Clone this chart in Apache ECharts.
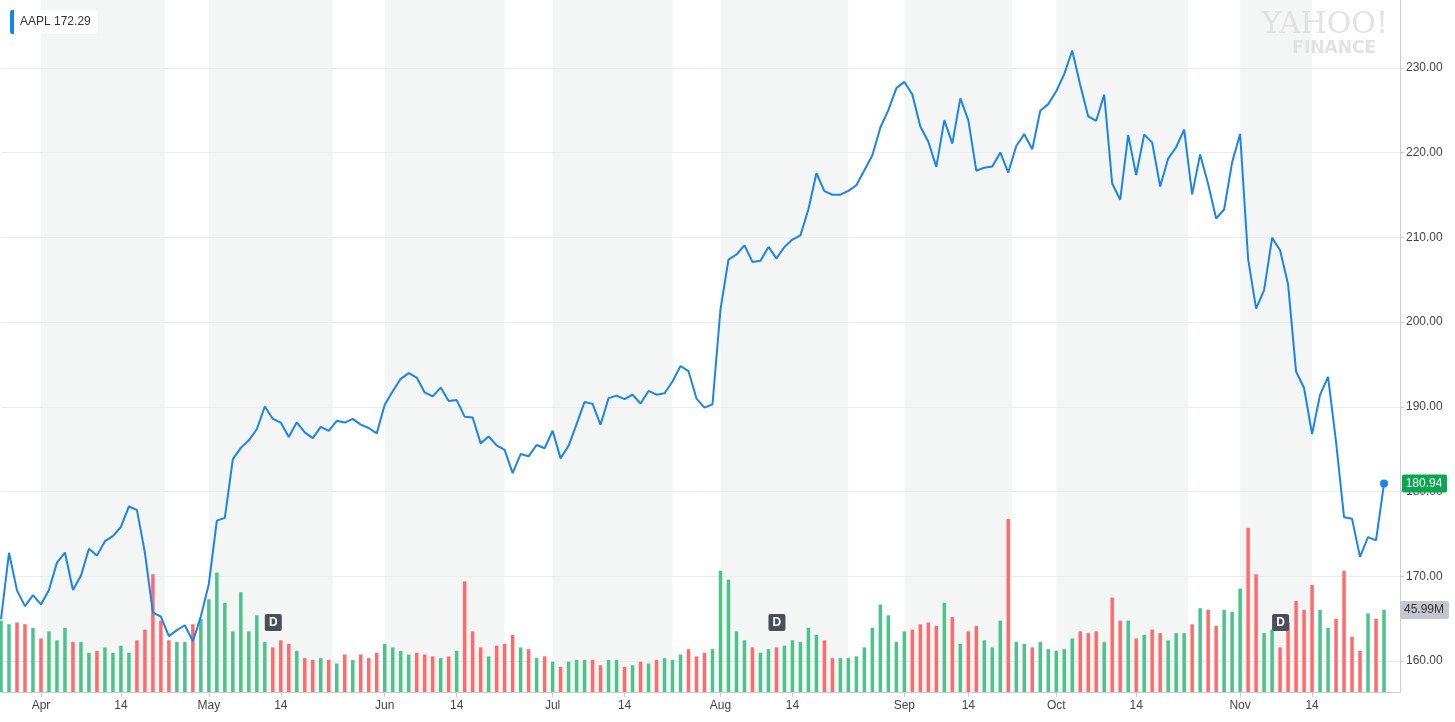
<!DOCTYPE html>
<html><head><meta charset="utf-8">
<script src="https://cdn.jsdelivr.net/npm/echarts@6/dist/echarts.min.js"></script>
<style>html,body{margin:0;padding:0;background:#fff}#c{width:1455px;height:722px}</style>
</head><body><div id="c"></div>
<script>
// Trading days Mar 23 2018 .. Nov 30 2018
const holidays = ['2018-03-30','2018-05-28','2018-07-04','2018-09-03','2018-11-22'];
const startDate = '2018-03-23', endDate = '2018-11-30';
const closes = [
164.94,172.77,168.34,166.48,167.78,
166.68,168.39,171.61,172.80,168.38,170.05,173.25,172.44,174.14,174.73,175.82,178.24,177.84,172.80,165.72,165.24,162.94,163.65,164.22,162.32,165.26,
169.10,176.57,176.89,183.83,185.16,186.05,187.36,190.04,188.59,188.15,186.44,188.18,186.99,186.31,187.63,187.16,188.36,188.15,188.58,187.90,187.50,186.87,
190.24,191.83,193.31,193.98,193.46,191.70,191.23,192.28,190.70,190.80,188.84,188.74,185.69,186.50,185.46,184.92,182.17,184.43,184.16,185.50,185.11,
187.18,183.92,185.40,187.97,190.58,190.35,187.88,191.03,191.33,190.91,191.45,190.40,191.88,191.44,191.61,193.00,194.82,194.21,190.98,189.91,190.29,
201.50,207.39,207.99,209.07,207.11,207.25,208.88,207.53,208.87,209.75,210.24,213.32,217.58,215.46,215.04,215.05,215.49,216.16,217.94,219.70,222.98,225.03,227.63,
228.36,226.87,223.10,221.30,218.33,223.85,221.07,226.41,223.84,217.88,218.24,218.37,220.03,217.66,220.79,222.19,220.42,224.95,225.74,
227.26,229.28,232.07,227.99,224.29,223.77,226.87,216.36,214.45,222.11,217.36,222.15,221.19,216.02,219.31,220.65,222.73,215.09,219.80,216.30,212.24,213.30,218.86,
222.22,207.48,201.59,203.77,209.95,208.49,204.47,194.17,192.23,186.80,191.41,193.53,185.86,176.98,176.78,172.29,174.62,174.24,180.94
];
// volume in millions
const volumes = [
40,38,39,38,36,
30,34,29,36,28,28,22,23,25,22,26,22,29,35,66,40,29,28,28,38,41,
52,67,50,34,56,34,43,28,25,29,27,23,19,18,19,18,16,21,18,21,19,22,
27,25,23,21,22,21,20,19,20,23,62,34,25,20,26,27,32,25,24,19,20,
17,14,17,18,18,18,15,18,18,14,15,17,16,18,19,18,21,24,20,22,24,
68,63,34,29,25,22,24,25,26,29,28,36,32,29,19,19,19,20,25,36,49,43,28,
34,35,38,39,37,50,42,27,34,37,29,25,40,97,28,27,25,28,24,
23,24,30,34,33,34,28,53,40,40,30,32,35,33,29,33,33,38,47,46,37,46,45,
58,92,66,33,35,25,39,51,46,60,46,36,41,68,31,23,44,41,46
];
const priceTicks = [160,170,180,190,200,210,220,230];
const monthNames = ['Jan','Feb','Mar','Apr','May','Jun','Jul','Aug','Sep','Oct','Nov','Dec'];
const dividendDates = ['2018-05-11','2018-08-10','2018-11-08'];
const legendText = 'AAPL 172.29';
const lastPriceLabel = '180.94';
const lastVolumeLabel = '45.99M';

const dates = [];
(function(){
  let d = new Date(startDate + 'T12:00:00Z'); const e = new Date(endDate + 'T12:00:00Z');
  while (d <= e) {
    const s = d.toISOString().slice(0,10), w = d.getUTCDay();
    if (w !== 0 && w !== 6 && holidays.indexOf(s) < 0) dates.push(s);
    d = new Date(d.getTime() + 86400000);
  }
})();
const labelMap = {}; const shadeStart = {}; const shadeEnd = {};
let prevM = +startDate.slice(5,7), got14 = {}; got14[prevM] = 1;
dates.forEach((s, i) => {
  const m = +s.slice(5,7), day = +s.slice(8,10);
  if (i > 0 && m !== prevM) { labelMap[i] = monthNames[m-1]; shadeStart[m] = i; }
  if (day >= 14 && !got14[m]) { got14[m] = 1; labelMap[i] = '14'; shadeEnd[m] = i; }
  prevM = m;
});
const shaded = [];
Object.keys(shadeStart).forEach(m => { if (shadeEnd[m] != null) shaded.push([{xAxis: shadeStart[m]},{xAxis: shadeEnd[m]}]); });

const priceData = dates.map((d,i) => i < closes.length ? closes[i] : null);
const volData = dates.map((d,i) => i < volumes.length ? {
  value: volumes[i],
  itemStyle: {color: (i === 0 || closes[i] >= closes[i-1]) ? '#4cc38a' : '#ff6b6b'}
} : null);

const chart = echarts.init(document.getElementById('c'));
chart.setOption({
  animation: false,
  grid: {left: 1, right: 55, top: 0, bottom: 30, containLabel: false, outerBoundsMode: 'none'},
  xAxis: {
    type: 'category', data: dates, boundaryGap: false,
    axisLine: {lineStyle: {color: '#ccc'}},
    axisTick: {show: true, length: 5, lineStyle: {color: '#ccc'}, interval: (i) => labelMap[i] != null},
    axisLabel: {interval: (i) => labelMap[i] != null, formatter: (v, i) => labelMap[i] || '', color: '#444', fontSize: 12, fontFamily: 'Helvetica, Arial, sans-serif', margin: 8},
    splitLine: {show: false}
  },
  yAxis: [{
    type: 'value', position: 'right', min: 156.34, max: 238.03,
    axisLine: {show: true, lineStyle: {color: '#ccc'}},
    axisTick: {show: true, length: 4, lineStyle: {color: '#ccc'}, customValues: priceTicks},
    axisLabel: {customValues: priceTicks, formatter: v => (+v).toFixed(2), color: '#444', fontSize: 12, fontFamily: 'Helvetica, Arial, sans-serif', margin: 6},
    splitLine: {show: false}
  }, {
    type: 'value', min: 0, max: 388, show: false
  }],
  series: [{
    type: 'bar', yAxisIndex: 1, data: volData, barWidth: 3.5, z: 2,
    markArea: {silent: true, itemStyle: {color: '#f4f6f6'}, data: shaded}
  }, {
    type: 'line', data: priceData, yAxisIndex: 0, showSymbol: false, z: 5,
    lineStyle: {color: '#1a84ec', width: 2}, itemStyle: {color: '#1a84ec'},
    markLine: {silent: true, symbol: 'none', label: {show: false}, lineStyle: {color: '#ececec', type: 'solid', width: 1}, z: 1,
      data: priceTicks.map(v => ({yAxis: v}))},
    markPoint: {symbol: 'circle', symbolSize: 8, itemStyle: {color: '#1a84ec'}, label: {show: false},
      data: [{coord: [closes.length-1, closes[closes.length-1]]}]}
  }]
});

const graphics = [];
graphics.push({type:'rect', shape:{x:10,y:10,width:88,height:24,r:3}, style:{fill:'#fff'}, z:100});
graphics.push({type:'rect', shape:{x:10,y:10,width:4,height:24,r:[2,0,0,2]}, style:{fill:'#1a84ec'}, z:101});
graphics.push({type:'text', x:20, y:22, style:{text:legendText, fill:'#333', font:'12px Helvetica, Arial, sans-serif', verticalAlign:'middle'}, z:101});
graphics.push({type:'text', x:1388, y:10, style:{text:'YAHOO!', fill:'#e2e2e2', font:'30px "DejaVu Serif", serif', align:'right'}, z:100});
graphics.push({type:'text', x:1376, y:40, style:{text:'FINANCE', fill:'#e2e2e2', font:'bold 17px "DejaVu Sans", sans-serif', align:'right'}, z:100});
const pp = chart.convertToPixel({yAxisIndex:0}, closes[closes.length-1]);
graphics.push({type:'rect', shape:{x:1402,y:pp-9,width:45,height:18,r:2}, style:{fill:'#0aa650'}, z:100});
graphics.push({type:'text', x:1424, y:pp, style:{text:lastPriceLabel, fill:'#fff', font:'12px Helvetica, Arial, sans-serif', align:'center', verticalAlign:'middle'}, z:101});
const vp = chart.convertToPixel({yAxisIndex:1}, volumes[volumes.length-1]);
graphics.push({type:'rect', shape:{x:1400,y:vp-9,width:49,height:18,r:2}, style:{fill:'#c4c8ce'}, z:100});
graphics.push({type:'text', x:1424, y:vp, style:{text:lastVolumeLabel, fill:'#333', font:'12px Helvetica, Arial, sans-serif', align:'center', verticalAlign:'middle'}, z:101});
dividendDates.forEach(d => {
  const x = chart.convertToPixel({xAxisIndex:0}, d);
  graphics.push({type:'rect', shape:{x:x-8,y:614,width:17,height:17,r:2}, style:{fill:'#4a4f57'}, z:100});
  graphics.push({type:'text', x:x+0.5, y:623, style:{text:'D', fill:'#fff', font:'bold 12px Helvetica, Arial, sans-serif', align:'center', verticalAlign:'middle'}, z:101});
});
chart.setOption({graphic: graphics});
</script></body></html>
